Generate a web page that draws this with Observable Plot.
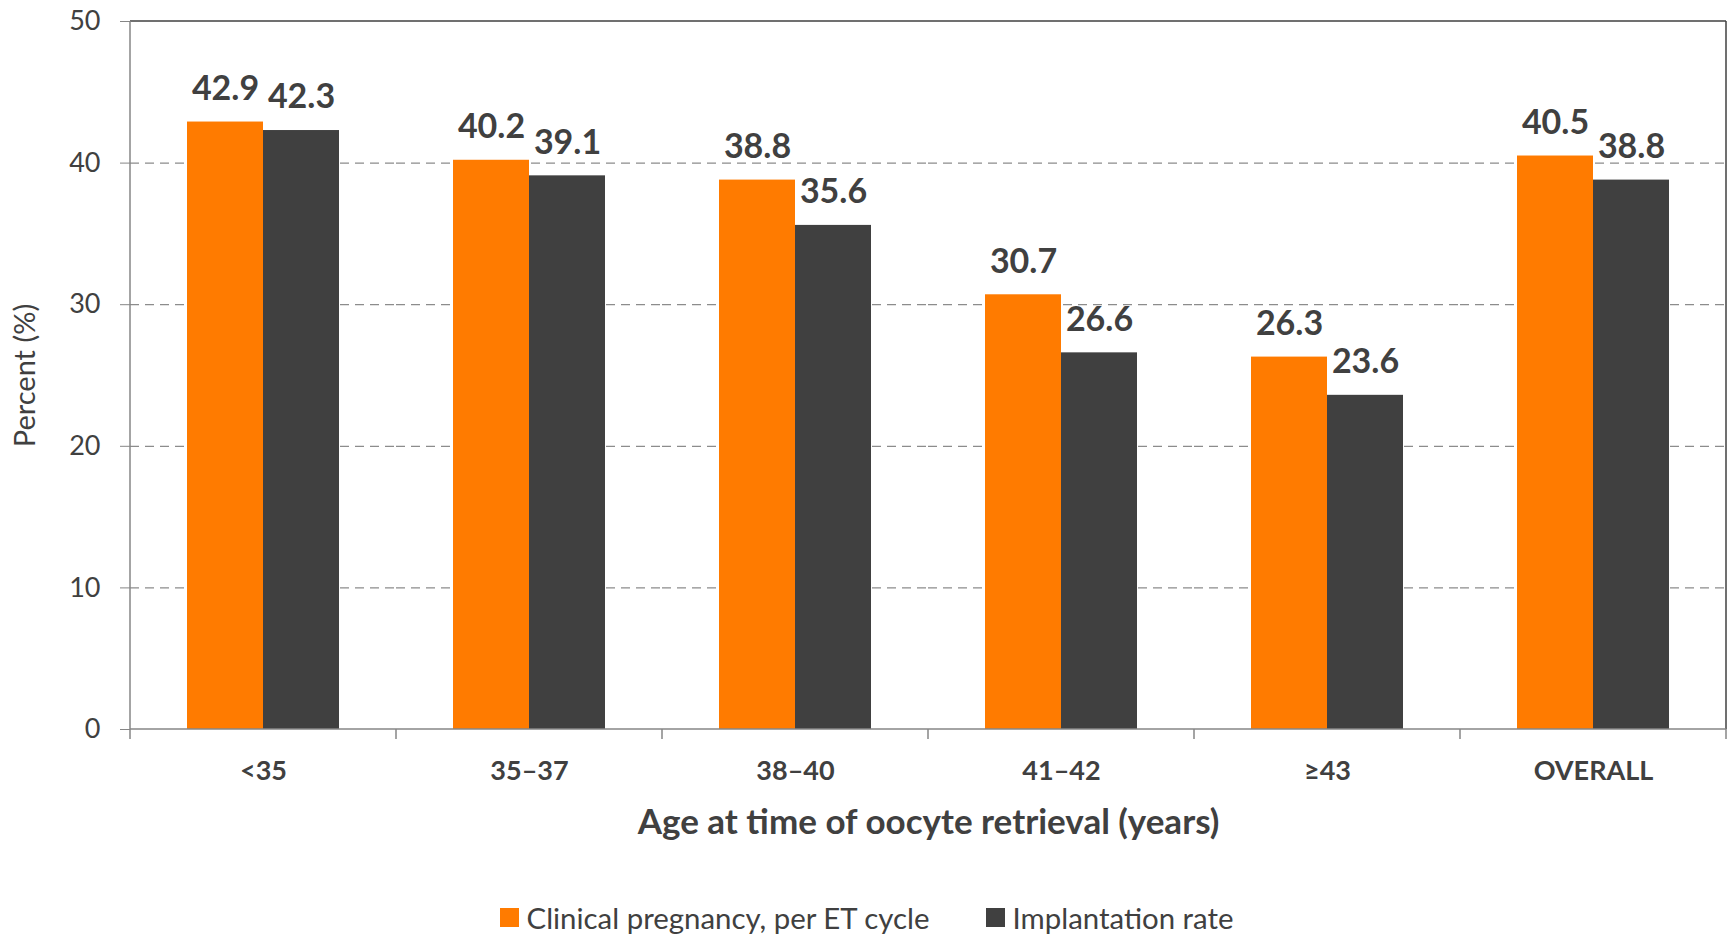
<!DOCTYPE html>
<html>
<head>
<meta charset="utf-8">
<script src="https://cdn.jsdelivr.net/npm/d3@7"></script>
<script src="https://cdn.jsdelivr.net/npm/@observablehq/plot@0.6"></script>
<style>
  html, body { margin: 0; padding: 0; background: #fff; }
  #chart svg { display: block; }
  g[aria-label="fx-axis label"] text, g[aria-label="fx-axis label"] { font-size: 35px; font-weight: bold; }
  g[aria-label="y-axis label"] text, g[aria-label="y-axis label"] { font-size: 29px; }
  #legend { display: flex; justify-content: center; align-items: center; gap: 56px;
    font-family: Lato, sans-serif; font-size: 29.4px; color: #404040; height: 44px; }
  #legend .item { display: flex; align-items: center; gap: 8px; }
  #legend .sw { width: 19px; height: 19px; display: inline-block; }
</style>
</head>
<body>
<div id="chart"></div>
<div id="legend"></div>
<script>
const categories = ["<35", "35–37", "38–40", "41–42", "≥43", "OVERALL"];
const series = ["Clinical pregnancy, per ET cycle", "Implantation rate"];
const pregnancy = [42.9, 40.2, 38.8, 30.7, 26.3, 40.5];
const implantation = [42.3, 39.1, 35.6, 26.6, 23.6, 38.8];
const yTicks = [0, 10, 20, 30, 40, 50];
const gridTicks = [10, 20, 30, 40];
const colors = ["#FF7B00", "#404040"];

const data = categories.flatMap((c, i) => [
  {cat: c, series: series[0], value: pregnancy[i]},
  {cat: c, series: series[1], value: implantation[i]}
]);

const W = 1733, H = 895;
const plot = Plot.plot({
  width: W, height: H,
  marginLeft: 127, marginRight: 5, marginTop: 21, marginBottom: 166,
  style: {fontFamily: "Lato, sans-serif", color: "#404040", background: "white"},
  fx: {domain: categories, padding: 0},
  x: {domain: series, paddingInner: 0, paddingOuter: 0.744, axis: null},
  y: {domain: [0, 50]},
  color: {domain: series, range: colors},
  marks: [
    Plot.gridY(gridTicks, {stroke: "#8c8c8c", strokeOpacity: 1, strokeDasharray: "9,6", strokeWidth: 1.3}),
    Plot.barY(data, {fx: "cat", x: "series", y: "value", fill: "series"}),
    Plot.text(data, {fx: "cat", x: "series", y: "value", text: d => d.value.toFixed(1),
      lineAnchor: "middle", dy: -33, fontSize: 34, fontWeight: "bold", fill: "#404040"}),
    Plot.axisY(yTicks, {tickSize: 10, tickPadding: 20, fontSize: 27, stroke: "#868686", fill: "#404040",
      label: "Percent (%)", labelAnchor: "center", labelOffset: 116, labelArrow: "none"}),
    Plot.axisFx({anchor: "bottom", tickSize: 0, tickPadding: 31, fontSize: 27, fontWeight: "bold",
      fill: "#404040", label: "Age at time of oocyte retrieval (years)", labelAnchor: "center",
      labelOffset: 104, labelArrow: "none"})
  ]
});
document.getElementById("chart").appendChild(plot);

// frame and category boundary ticks from the plot's own scales
const svg = d3.select(plot.tagName.toLowerCase() === "svg" ? plot : plot.querySelector("svg"));
const fx = plot.scale("fx");
const ys = plot.scale("y");
const y0 = ys.apply(0), y50 = ys.apply(50);
const left = fx.apply(categories[0]);
const right = fx.apply(categories[categories.length - 1]) + fx.bandwidth;
const g = svg.append("g");
g.append("line").attr("x1", left).attr("x2", right).attr("y1", y50).attr("y2", y50)
  .attr("stroke", "#404040").attr("stroke-width", 1.5);
g.append("line").attr("x1", right).attr("x2", right).attr("y1", y50).attr("y2", y0)
  .attr("stroke", "#404040").attr("stroke-width", 1.5);
g.append("line").attr("x1", left).attr("x2", left).attr("y1", y50).attr("y2", y0)
  .attr("stroke", "#868686").attr("stroke-width", 1.5);
g.append("line").attr("x1", left).attr("x2", right).attr("y1", y0).attr("y2", y0)
  .attr("stroke", "#868686").attr("stroke-width", 1.5);
const bounds = categories.map(c => fx.apply(c)).concat([right]);
g.selectAll(".bt").data(bounds).join("line")
  .attr("x1", d => d).attr("x2", d => d).attr("y1", y0).attr("y2", y0 + 10)
  .attr("stroke", "#868686").attr("stroke-width", 1.5);

// legend
const legend = d3.select("#legend");
series.forEach((s, i) => {
  const it = legend.append("div").attr("class", "item");
  it.append("span").attr("class", "sw").style("background", colors[i]);
  it.append("span").text(s);
});
</script>
</body>
</html>
